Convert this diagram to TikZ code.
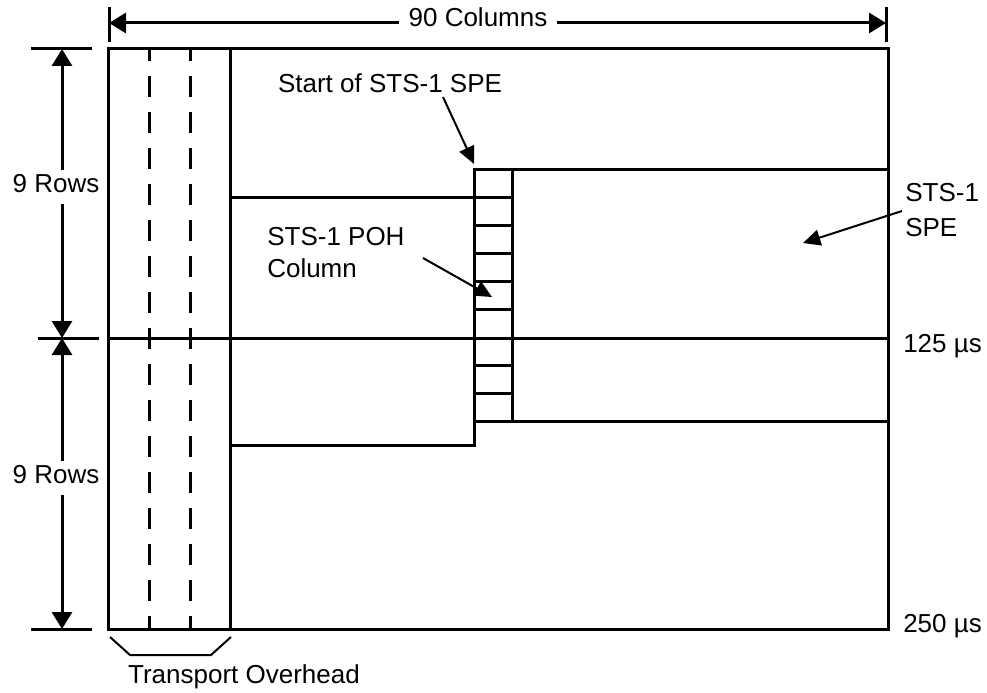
\documentclass[tikz,border=0pt]{standalone}
\usepackage{fontspec}
\setmainfont{Liberation Sans}
\usetikzlibrary{arrows.meta, positioning}
\tikzset{
    >={Triangle[length=12.75pt, width=15pt]}, % solid triangle heads
    frame/.style={line width=2.25pt}, % outline of the frame
    dim/.style={<->, line width=2.25pt}, % dimension lines
    pointer/.style={-{Triangle[length=13pt, width=12pt]}, line width=1.5pt}, % arrows from the labels
    ohcol/.style={line width=2.25pt, dash pattern=on 15.75pt off 11.25pt, dash phase=6.75pt}, % overhead columns
    txt/.style={font=\fontsize{19.5}{24}\selectfont, inner sep=0pt},
    gap/.style={fill=white, inner xsep=7.5pt, inner ysep=3pt, text depth=6pt} % label sitting on a dimension line
}

\begin{document}
\begin{tikzpicture}[x=0.75pt, y=-0.75pt]
    \useasboundingbox (0,0) rectangle (987,692);

    % frame and transport overhead
    \coordinate (tl) at (108,49);
    \coordinate (br) at (888,629);
    \draw[frame] (tl) rectangle (br);
    \draw[frame] (108,338) -- (888,338);
    \draw[frame] (230,49) -- (230,629);
    \draw[ohcol] (149,49) -- (149,629);
    \draw[ohcol] (190,49) -- (190,629);

    % spe and poh column
    \draw[frame] (230,197) -- (474,197) -- (474,169) -- (888,169);
    \draw[frame] (230,445) -- (474,445) -- (474,421) -- (888,421);
    \draw[frame] (474,169) -- (474,445);
    \draw[frame] (512,169) -- (512,421);
    \foreach \k in {1,2,3,4,5,7,8}
        \draw[frame] (474,169+28*\k) -- (512,169+28*\k);

    % 90 columns
    \coordinate (c1) at (109,23);
    \coordinate (c2) at (886,23);
    \draw[frame] (109,7) -- (109,42);
    \draw[frame] (886,7) -- (886,42);
    \draw[dim] (c1) -- (c2);
    \node[txt, gap, anchor=base] (cols) at (478,27) {90 Columns};

    % 9 rows
    \coordinate (r1) at (62,49);
    \coordinate (r2) at (62,338);
    \coordinate (r3) at (62,629);
    \draw[frame] (31,49) -- (92,49);
    \draw[frame] (38,338) -- (99,338);
    \draw[frame] (31,629) -- (92,629);
    \draw[dim] (r1) -- (r2);
    \draw[dim] (r2) -- (r3);
    \node[txt, gap, inner xsep=1pt, anchor=base] (rows1) at (56,192) {9 Rows};
    \node[txt, gap, inner xsep=1pt, anchor=base] (rows2) at (56,483) {9 Rows};

    % labels
    \node[txt, anchor=base] (start) at (390,92) {Start of STS-1 SPE};
    \node[txt, anchor=north west, align=left] (poh) at (267,227) {STS-1 POH\\Column};
    \node[txt, anchor=north west, align=left] (spe) at (905,183) {STS-1\\[2.25pt]SPE};
    \node[txt, anchor=base west] (t125) at (903,352) {125 µs};
    \node[txt, anchor=base west] (t250) at (903,632) {250 µs};
    \node[txt, anchor=base] (overhead) at (244,683) {Transport Overhead};

    % pointers
    \coordinate (s0) at (443,97);
    \coordinate (s1) at (474,164);
    \coordinate (p0) at (423,258);
    \coordinate (p1) at (492,297);
    \coordinate (e0) at (902,211);
    \coordinate (e1) at (803,243);
    \draw[pointer] (s0) -- (s1);
    \draw[pointer] (p0) -- (p1);
    \draw[pointer] (e0) -- (e1);

    % brace under the overhead
    \draw[line width=1.5pt] (110,637) -- (130,655) -- (211,655) -- (231,637);
\end{tikzpicture}
\end{document}
